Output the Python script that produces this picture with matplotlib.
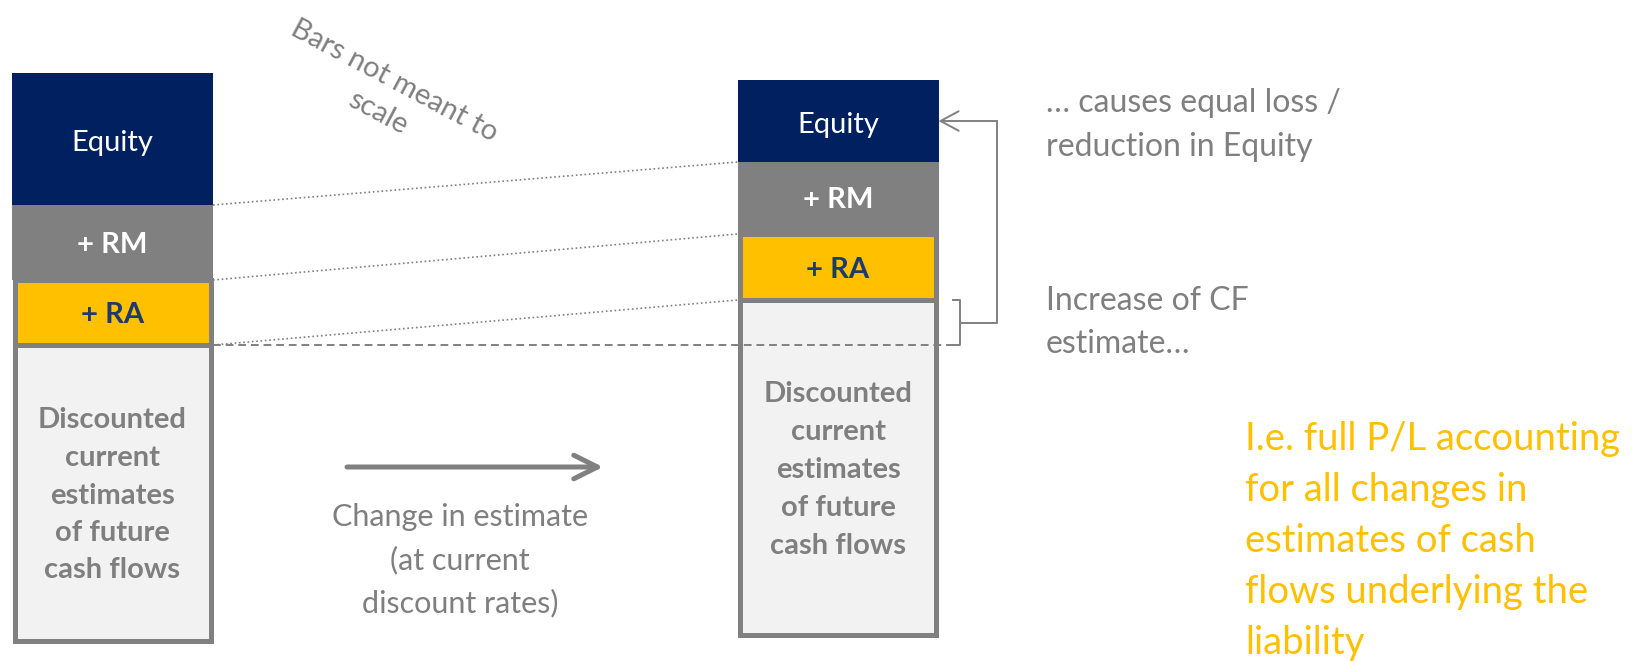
import numpy as np
import matplotlib.pyplot as plt

# Stacked "balance sheet" bars, segment heights listed top-down (not to scale)
segments = ['Equity', '+ RM', '+ RA',
            'Discounted\ncurrent\nestimates\nof future\ncash flows']
before_heights = [132, 75, 65, 296]
after_heights = [82, 72, 66, 335]

arrow_label = ['Change in estimate', '(at current', 'discount rates)']
note_equity = ['\u2026 causes equal loss /', 'reduction in Equity']
note_cf = ['Increase of CF', 'estimate\u2026']
note_pl = ['I.e. full P/L accounting', 'for all changes in', 'estimates of cash',
           'flows underlying the', 'liability']
scale_note = 'Bars not meant to\nscale'

NAVY = '#002060'
GRAY = '#808080'
YELLOW = '#FFC000'
LIGHT = '#F2F2F2'
TXT = '#7F7F7F'
RA_TXT = '#1F3A6E'
ORANGE = '#FFC000'

FONT = ['Lato', 'DejaVu Sans']
PX = 72 / 100  # points per pixel
BAR_W = 201
EDGE = 5

plt.rcParams['font.family'] = FONT

fig = plt.figure(figsize=(16.32, 6.61), dpi=100)
ax = fig.add_axes([0, 0, 1, 1])
ax.set_xlim(0, 1632)
ax.set_ylim(661, 0)
ax.axis('off')


def draw_stack(xc, top, heights, pitch):
    heights = np.asarray(heights, dtype=float)
    bottoms = top + np.concatenate([[0], np.cumsum(heights)[:-1]])
    ax.bar(xc, heights[0], bottom=bottoms[0], width=BAR_W, color=NAVY, lw=0)
    ax.bar(xc, heights[1], bottom=bottoms[1], width=BAR_W, color=GRAY, lw=0)
    ax.bar(xc, heights[2], bottom=bottoms[2], width=BAR_W - EDGE, color=YELLOW,
           edgecolor=GRAY, lw=EDGE * PX)
    ax.bar(xc, heights[3], bottom=bottoms[3], width=BAR_W - EDGE, color=LIGHT,
           edgecolor=GRAY, lw=EDGE * PX)
    mids = bottoms + heights / 2
    ax.text(xc, mids[0] + 2, segments[0], color='white', fontsize=21,
            ha='center', va='center_baseline')
    ax.text(xc, mids[1], segments[1], color='white', fontsize=21, fontweight='bold',
            ha='center', va='center_baseline')
    ax.text(xc, mids[2], segments[2], color=RA_TXT, fontsize=21, fontweight='bold',
            ha='center', va='center_baseline')
    lines = segments[3].split('\n')
    for i, line in enumerate(lines):
        y = mids[3] + (i - (len(lines) - 1) / 2) * pitch
        ax.text(xc, y, line, color=TXT, fontsize=21, fontweight='bold',
                ha='center', va='center_baseline')
    return np.append(bottoms, top + heights.sum())


def draw_lines(x, y0, lines, pitch, **kw):
    for i, line in enumerate(lines):
        ax.text(x, y0 + i * pitch, line, va='baseline', **kw)


left = draw_stack(112.5, 73, before_heights, 37.5)
right = draw_stack(838, 80, after_heights, 38)

# dotted links between matching boundaries
x_l, x_r = 112.5 + BAR_W / 2, 838 - BAR_W / 2
for i in range(1, 4):
    ax.plot([x_l, x_r], [left[i], right[i]], color=GRAY, lw=1.2,
            ls=(0, (1, 1.6)), zorder=3)

# dashed level of old CF top, bracket and link back to equity
xb = 960
ax.plot([x_l, xb], [left[3], left[3]], color=GRAY, lw=1.4, ls=(0, (4, 2.5)), zorder=4)
ax.plot([953, xb, xb, 953], [right[3], right[3], left[3], left[3]], color=GRAY, lw=1.4)
ymid = (right[3] + left[3]) / 2
eq_mid = (right[0] + right[1]) / 2
ax.plot([xb, 997, 997], [ymid, ymid, eq_mid], color=GRAY, lw=1.4)
ax.annotate('', xy=(838 + BAR_W / 2, eq_mid), xytext=(997, eq_mid),
            arrowprops=dict(arrowstyle='->,head_length=1.3,head_width=0.7',
                            color=GRAY, lw=1.4, shrinkA=0, shrinkB=0,
                            mutation_scale=10))

# change arrow
ax.annotate('', xy=(603, 467), xytext=(347, 467),
            arrowprops=dict(arrowstyle='->,head_length=1.7,head_width=0.85',
                            color=GRAY, lw=3.6, shrinkA=0, shrinkB=0,
                            mutation_scale=10))
draw_lines(460, 526, arrow_label, 43, color=TXT, fontsize=22, ha='center')

draw_lines(1046, 112, note_equity, 44, color=TXT, fontsize=23, ha='left')
draw_lines(1046, 310, note_cf, 43, color=TXT, fontsize=23, ha='left')
draw_lines(1245, 450, note_pl, 51, color=ORANGE, fontsize=27.5, ha='left')

ax.text(386, 97, scale_note, color=TXT, fontsize=21, rotation=-28,
        ha='center', va='center', multialignment='center', linespacing=1.45,
        rotation_mode='anchor')

fig.savefig('out.png', dpi=100)
